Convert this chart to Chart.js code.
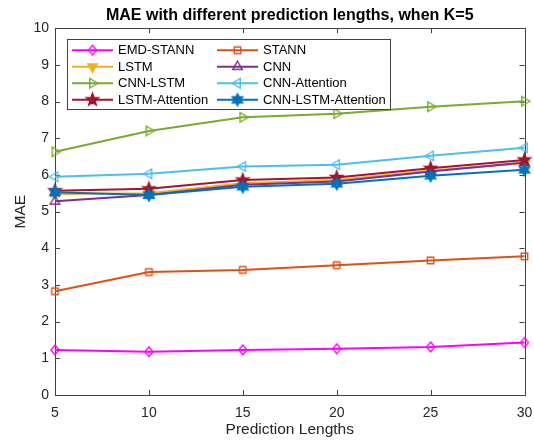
<!DOCTYPE html>
<html>
<head>
<meta charset="utf-8">
<script src="https://cdn.jsdelivr.net/npm/chart.js@4/dist/chart.umd.min.js"></script>
<style>
  body { margin: 0; background: #fff; }
  #wrap { width: 534px; height: 440px; }
</style>
</head>
<body>
<div id="wrap"><canvas id="mae-chart" width="534" height="440"></canvas></div>
<script>
const lengths = [5, 10, 15, 20, 25, 30];

const emdStann      = [1.23, 1.18, 1.23, 1.26, 1.31, 1.43];
const stann         = [2.83, 3.35, 3.41, 3.54, 3.67, 3.78];
const lstm          = [5.48, 5.50, 5.77, 5.86, 6.12, 6.32];
const cnn           = [5.28, 5.45, 5.73, 5.82, 6.09, 6.34];
const cnnLstm       = [6.63, 7.20, 7.57, 7.67, 7.86, 8.01];
const cnnAttention  = [5.95, 6.03, 6.23, 6.28, 6.52, 6.74];
const lstmAttention = [5.57, 5.62, 5.86, 5.93, 6.18, 6.41];
const cnnLstmAtt    = [5.53, 5.45, 5.68, 5.76, 5.98, 6.14];

const yTicks = [0, 1, 2, 3, 4, 5, 6, 7, 8, 9, 10];

const FONT = "'Liberation Sans', Arial, Helvetica, sans-serif";
Chart.defaults.font.family = FONT;

// small offscreen canvases used as point markers
function marker(shape, color, filled, r) {
  const s = Math.ceil(2 * r + 4);
  const c = document.createElement('canvas');
  c.width = s; c.height = s;
  const g = c.getContext('2d');
  g.translate(s / 2, s / 2);
  g.beginPath();
  const poly = (pts) => { pts.forEach((p, i) => i ? g.lineTo(p[0], p[1]) : g.moveTo(p[0], p[1])); };
  const tri = (deg) => {
    const pts = [];
    for (let k = 0; k < 3; k++) {
      const a = (deg + k * 120) * Math.PI / 180;
      pts.push([r * Math.cos(a), r * Math.sin(a)]);
    }
    poly(pts);
  };
  const star = (n, inner) => {
    const pts = [];
    for (let k = 0; k < 2 * n; k++) {
      const a = -Math.PI / 2 + k * Math.PI / n;
      const rr = k % 2 ? r * inner : r;
      pts.push([rr * Math.cos(a), rr * Math.sin(a)]);
    }
    poly(pts);
  };
  switch (shape) {
    case 'diamond': poly([[0, -r], [r * 0.8, 0], [0, r], [-r * 0.8, 0]]); break;
    case 'square': g.rect(-r * 0.72, -r * 0.72, r * 1.44, r * 1.44); break;
    case 'down': tri(90); break;
    case 'up': tri(-90); break;
    case 'right': tri(0); break;
    case 'left': tri(180); break;
    case 'star5': star(5, 0.42); break;
    case 'star6': star(6, 0.55); break;
  }
  g.closePath();
  if (filled) { g.fillStyle = color; g.fill(); }
  g.lineWidth = 1.4;
  g.strokeStyle = color;
  g.stroke();
  return c;
}

const series = [
  { label: 'EMD-STANN',          data: emdStann,      color: '#FF00FF', shape: 'diamond', filled: false, r: 5 },
  { label: 'STANN',              data: stann,         color: '#D95319', shape: 'square',  filled: false, r: 4.5 },
  { label: 'LSTM',               data: lstm,          color: '#EDB120', shape: 'down',    filled: true,  r: 5.5 },
  { label: 'CNN',                data: cnn,           color: '#7E2F8E', shape: 'up',      filled: false, r: 5.5 },
  { label: 'CNN-LSTM',           data: cnnLstm,       color: '#77AC30', shape: 'right',   filled: false, r: 5.5 },
  { label: 'CNN-Attention',      data: cnnAttention,  color: '#4DBEEE', shape: 'left',    filled: false, r: 5.5 },
  { label: 'LSTM-Attention',     data: lstmAttention, color: '#A2142F', shape: 'star5',   filled: true,  r: 6.5 },
  { label: 'CNN-LSTM-Attention', data: cnnLstmAtt,    color: '#0072BD', shape: 'star6',   filled: true,  r: 6 }
];

const datasets = series.map((s, i) => ({
  label: s.label,
  data: lengths.map((x, j) => ({ x: x, y: s.data[j] })),
  borderColor: s.color,
  backgroundColor: s.color,
  borderWidth: 2,
  pointStyle: marker(s.shape, s.color, s.filled, s.r),
  pointRadius: s.r,
  tension: 0,
  clip: false,
  order: series.length - 1 - i
}));

// box around the axes with inward ticks on all four sides
const axesBox = {
  id: 'axesBox',
  beforeDatasetsDraw(chart) {
    const { ctx, chartArea: a, scales: { x, y } } = chart;
    const tl = 5;
    ctx.save();
    ctx.strokeStyle = '#404040';
    ctx.lineWidth = 1;
    ctx.beginPath();
    x.ticks.forEach(t => {
      const px = Math.round(x.getPixelForValue(t.value)) + 0.5;
      ctx.moveTo(px, a.bottom); ctx.lineTo(px, a.bottom - tl);
      ctx.moveTo(px, a.top); ctx.lineTo(px, a.top + tl);
    });
    y.ticks.forEach(t => {
      const py = Math.round(y.getPixelForValue(t.value)) + 0.5;
      ctx.moveTo(a.left, py); ctx.lineTo(a.left + tl, py);
      ctx.moveTo(a.right, py); ctx.lineTo(a.right - tl, py);
    });
    ctx.stroke();
    ctx.strokeRect(Math.round(a.left) + 0.5, Math.round(a.top) + 0.5,
                   Math.round(a.right - a.left), Math.round(a.bottom - a.top));
    ctx.restore();
  }
};

// two-column legend drawn inside the plot, line + marker + name
const boxLegend = {
  id: 'boxLegend',
  afterDraw(chart) {
    const { ctx, chartArea: a } = chart;
    const left = a.left + 12, top = a.top + 11;
    const w = 323, h = 70;
    const rowH = 16.5, cols = [0, 145];
    ctx.save();
    ctx.fillStyle = '#fff';
    ctx.fillRect(left, top, w, h);
    ctx.strokeStyle = '#404040';
    ctx.lineWidth = 1;
    ctx.strokeRect(Math.round(left) + 0.5, Math.round(top) + 0.5, w, h);
    ctx.font = '13px ' + FONT;
    ctx.textBaseline = 'middle';
    chart.data.datasets.forEach((ds, i) => {
      const cx = left + cols[i % 2];
      const cy = top + 11 + Math.floor(i / 2) * rowH;
      ctx.strokeStyle = ds.borderColor;
      ctx.lineWidth = 2;
      ctx.beginPath();
      ctx.moveTo(cx + 5, cy); ctx.lineTo(cx + 46, cy);
      ctx.stroke();
      const img = ds.pointStyle;
      ctx.drawImage(img, cx + 25.5 - img.width / 2, cy - img.height / 2);
      ctx.fillStyle = '#000';
      ctx.fillText(ds.label, cx + 51, cy + 0.5);
    });
    ctx.restore();
  }
};

new Chart(document.getElementById('mae-chart'), {
  type: 'line',
  data: { datasets: datasets },
  options: {
    responsive: false,
    animation: false,
    layout: { padding: { top: 0, right: 9.5, bottom: 0, left: 0 } },
    plugins: {
      legend: { display: false },
      tooltip: { enabled: false },
      title: {
        display: true,
        fullSize: false,
        text: 'MAE with different prediction lengths, when K=5',
        color: '#000',
        font: { size: 16, weight: 'bold' },
        padding: { top: 6, bottom: 3 }
      }
    },
    scales: {
      x: {
        type: 'linear',
        min: 5,
        max: 30,
        afterFit: (s) => { s.height = 45; s.paddingLeft = 0; s.paddingRight = 0; },
        afterBuildTicks: (s) => { s.ticks = lengths.map(v => ({ value: v })); },
        grid: { display: false, drawTicks: false },
        border: { display: false },
        ticks: { color: '#262626', font: { size: 14 }, padding: 10, maxRotation: 0 },
        title: {
          display: true,
          text: 'Prediction Lengths',
          color: '#262626',
          font: { size: 15.5 },
          padding: { top: 0, bottom: 1 }
        }
      },
      y: {
        min: 0,
        max: 10,
        afterFit: (s) => { s.width = 55; s.paddingTop = 0; s.paddingBottom = 0; },
        afterBuildTicks: (s) => { s.ticks = yTicks.map(v => ({ value: v })); },
        grid: { display: false, drawTicks: false },
        border: { display: false },
        ticks: { color: '#262626', font: { size: 14 }, padding: 6 },
        title: {
          display: true,
          text: 'MAE',
          color: '#262626',
          font: { size: 15.5 },
          padding: { top: 11, bottom: 0 }
        }
      }
    }
  },
  plugins: [axesBox, boxLegend]
});
</script>
</body>
</html>
